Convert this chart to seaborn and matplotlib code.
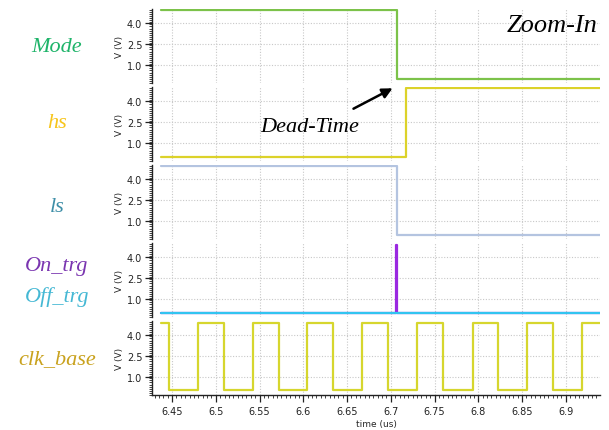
import matplotlib
matplotlib.use("Agg")
import matplotlib.pyplot as plt
from matplotlib.ticker import MultipleLocator, AutoMinorLocator
import seaborn as sns
import pandas as pd

sns.set_style("white")
plt.rcParams['font.family'] = ['DejaVu Sans']

# ---- data (time in us, voltage in V) ----
mode_t = [6.4374, 6.7072, 6.9391]
mode_v = [4.9, 0.0, 0.0]
hs_t = [6.4374, 6.7170, 6.9391]
hs_v = [0.0, 4.9, 4.9]
ls_t = [6.4374, 6.7072, 6.9391]
ls_v = [4.9, 0.0, 0.0]
on_t = [6.4374, 6.7062, 6.7076, 6.9391]
on_v = [0.0, 4.85, 0.0, 0.0]
off_t = [6.4374, 6.9391]
off_v = [0.0, 0.0]
clk_t = [6.4374, 6.4466, 6.4801, 6.5094, 6.5426, 6.5720, 6.6046, 6.6343,
         6.6671, 6.6972, 6.7303, 6.7594, 6.7937, 6.8222, 6.8561, 6.8854,
         6.9186, 6.9391]
clk_v = [4.88, 0.05, 4.88, 0.05, 4.88, 0.05, 4.88, 0.05,
         4.88, 0.05, 4.88, 0.05, 4.88, 0.05, 4.88, 0.05,
         4.88, 4.88]

x_ticks = [6.45, 6.5, 6.55, 6.6, 6.65, 6.7, 6.75, 6.8, 6.85, 6.9]
x_ticklabels = ["6.45", "6.5", "6.55", "6.6", "6.65", "6.7", "6.75", "6.8", "6.85", "6.9"]
y_ticks = [1.0, 2.5, 4.0]
y_ticklabels = ["1.0", "2.5", "4.0"]

panels = [
    [("Mode", mode_t, mode_v, "#7cc24a")],
    [("hs", hs_t, hs_v, "#dcd22a")],
    [("ls", ls_t, ls_v, "#b4c4e0")],
    [("On_trg", on_t, on_v, "#9a28e0"), ("Off_trg", off_t, off_v, "#32c4f0")],
    [("clk_base", clk_t, clk_v, "#d6d62e")],
]
side_labels = [
    [("Mode", "#1fb46a", 47)],
    [("hs", "#f7c51c", 124)],
    [("ls", "#3f8fa8", 208)],
    [("On_trg", "#7a35b0", 266), ("Off_trg", "#45b8d4", 297)],
    [("clk_base", "#c9a21e", 360)],
]

W, H = 609, 431
fig = plt.figure(figsize=(W / 100, H / 100), dpi=100)

left_px, right_px = 152, 600
tops = [10, 88, 166, 244, 322]
h_px = 74
xlim = (6.4271, 6.9391)

for i, (series, top) in enumerate(zip(panels, tops)):
    ax = fig.add_axes([left_px / W, 1 - (top + h_px) / H,
                       (right_px - left_px) / W, h_px / H])
    for name, t, v, c in series:
        df = pd.DataFrame({"time": t, "V": v})
        sns.lineplot(data=df, x="time", y="V", ax=ax, color=c, lw=1.6,
                     drawstyle="steps-post", estimator=None, sort=False)
    ax.set_xlim(*xlim)
    ax.set_ylim(-0.3, 5.0)
    ax.set_yticks(y_ticks, labels=y_ticklabels)
    ax.yaxis.set_minor_locator(MultipleLocator(0.15))
    ax.set_xticks(x_ticks, labels=x_ticklabels)
    ax.xaxis.set_minor_locator(AutoMinorLocator(10))
    ax.grid(True, which="major", color="#c8c8c8", lw=0.8, ls=(0, (1, 1.5)))
    for s in ["top", "right"]:
        ax.spines[s].set_visible(False)
    ax.spines["left"].set_color("#222222")
    ax.spines["left"].set_linewidth(1.0)
    ax.tick_params(axis="y", which="major", direction="out", length=5,
                   width=0.9, labelsize=7, colors="#222222", left=True, pad=2)
    ax.tick_params(axis="y", which="minor", direction="out", length=2.5,
                   width=0.6, left=True, colors="#222222")
    ax.set_ylabel("V (V)", fontsize=6.5, labelpad=2)
    if i < 4:
        ax.spines["bottom"].set_visible(False)
        ax.tick_params(axis="x", which="both", bottom=False, labelbottom=False)
        ax.set_xlabel("")
    else:
        ax.spines["bottom"].set_color("#222222")
        ax.spines["bottom"].set_linewidth(1.0)
        ax.tick_params(axis="x", which="major", direction="out", length=5,
                       width=0.9, labelsize=7, colors="#222222", bottom=True, pad=3)
        ax.tick_params(axis="x", which="minor", direction="out", length=2.5,
                       width=0.6, bottom=True, colors="#222222")
        ax.set_xlabel("time (us)", fontsize=6.5, labelpad=2)

for labs in side_labels:
    for text, col, ypx in labs:
        fig.text(57 / W, 1 - ypx / H, text, color=col, fontsize=16,
                 family="Liberation Serif", style="italic",
                 ha="center", va="center")

fig.text(598 / W, 1 - 26 / H, "Zoom-In", color="black", fontsize=19,
         family="Liberation Serif", style="italic", ha="right", va="center")
fig.text(310 / W, 1 - 127 / H, "Dead-Time", color="black", fontsize=16,
         family="Liberation Serif", style="italic", ha="center", va="center")
fig.add_artist(matplotlib.patches.FancyArrowPatch(
    (351 / W, 1 - 111 / H), (395 / W, 1 - 88 / H),
    transform=fig.transFigure, arrowstyle="-|>", mutation_scale=15,
    color="black", lw=1.8))

fig.savefig("out.png", dpi=100)
